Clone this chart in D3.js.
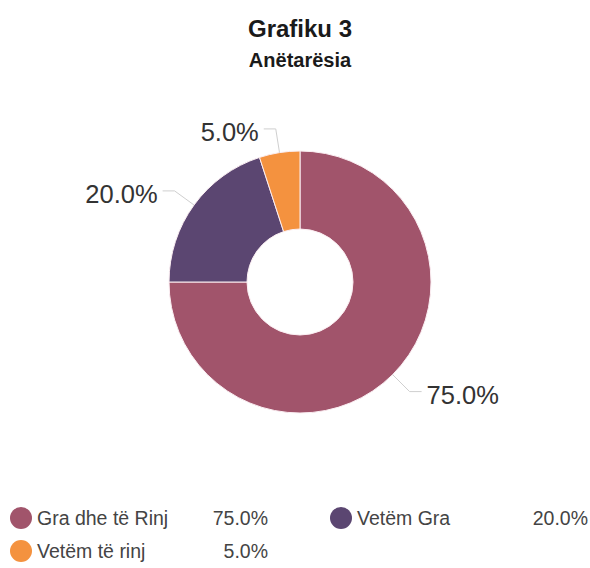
<!DOCTYPE html>
<html>
<head>
<meta charset="utf-8">
<script src="https://cdn.jsdelivr.net/npm/d3@7"></script>
<style>
  html, body { margin: 0; padding: 0; background: #fff; }
  svg { display: block; font-family: "Liberation Sans", Arial, sans-serif; }
</style>
</head>
<body>
<svg id="chart" width="590" height="568"></svg>
<script>
const title = "Grafiku 3";
const subtitle = "Anëtarësia";
const categories = ["Gra dhe të Rinj", "Vetëm Gra", "Vetëm të rinj"];
const values = [75.0, 20.0, 5.0];
const colors = ["#a1546b", "#5b4671", "#f4923f"];

const svg = d3.select("#chart");
const cx = 300, cy = 282, outerR = 131, innerR = 53;

svg.append("text").attr("x", cx).attr("y", 37).attr("text-anchor", "middle")
  .attr("font-size", 24).attr("font-weight", "bold").attr("fill", "#1a1a1a").text(title);
svg.append("text").attr("x", cx).attr("y", 67).attr("text-anchor", "middle")
  .attr("font-size", 20).attr("font-weight", "bold").attr("fill", "#1a1a1a").text(subtitle);

const data = categories.map((c, i) => ({ cat: c, value: values[i], color: colors[i] }));
const pie = d3.pie().sort(null).value(d => d.value);
const arcs = pie(data);
const arc = d3.arc().innerRadius(innerR).outerRadius(outerR);

const g = svg.append("g").attr("transform", `translate(${cx},${cy})`);
g.selectAll("path.slice").data(arcs).join("path")
  .attr("class", "slice")
  .attr("d", arc)
  .attr("fill", d => d.data.color)
  .attr("stroke", "#fbeef2")
  .attr("stroke-width", 1);

const fmt = v => v.toFixed(1) + "%";
const elbowR = 155;
arcs.forEach(a => {
  const mid = (a.startAngle + a.endAngle) / 2;
  const p0 = [Math.sin(mid) * outerR, -Math.cos(mid) * outerR];
  const p1 = [Math.sin(mid) * elbowR, -Math.cos(mid) * elbowR];
  const right = Math.sin(mid) > 0;
  const hLen = 12;
  const p2 = [p1[0] + (right ? hLen : -hLen), p1[1]];
  g.append("polyline")
    .attr("points", [p0, p1, p2].map(p => p.join(",")).join(" "))
    .attr("fill", "none").attr("stroke", "#cfcfcf").attr("stroke-width", 1);
  g.append("text")
    .attr("x", p2[0] + (right ? 5 : -5))
    .attr("y", p2[1] + 12)
    .attr("text-anchor", right ? "start" : "end")
    .attr("font-size", 25.5).attr("fill", "#333")
    .text(fmt(a.data.value));
});

// legend
const legendPos = [
  { cx: 21, cy: 518, tx: 37, vx: 268 },
  { cx: 341, cy: 518, tx: 357, vx: 588 },
  { cx: 21, cy: 551, tx: 37, vx: 268 }
];
const lg = svg.append("g");
data.forEach((d, i) => {
  const p = legendPos[i];
  lg.append("circle").attr("cx", p.cx).attr("cy", p.cy).attr("r", 11).attr("fill", d.color);
  lg.append("text").attr("x", p.tx).attr("y", p.cy + 7).attr("font-size", 19.5)
    .attr("fill", "#444").text(d.cat);
  lg.append("text").attr("x", p.vx).attr("y", p.cy + 7).attr("font-size", 19.5)
    .attr("text-anchor", "end").attr("fill", "#444").text(fmt(d.value));
});
</script>
</body>
</html>
